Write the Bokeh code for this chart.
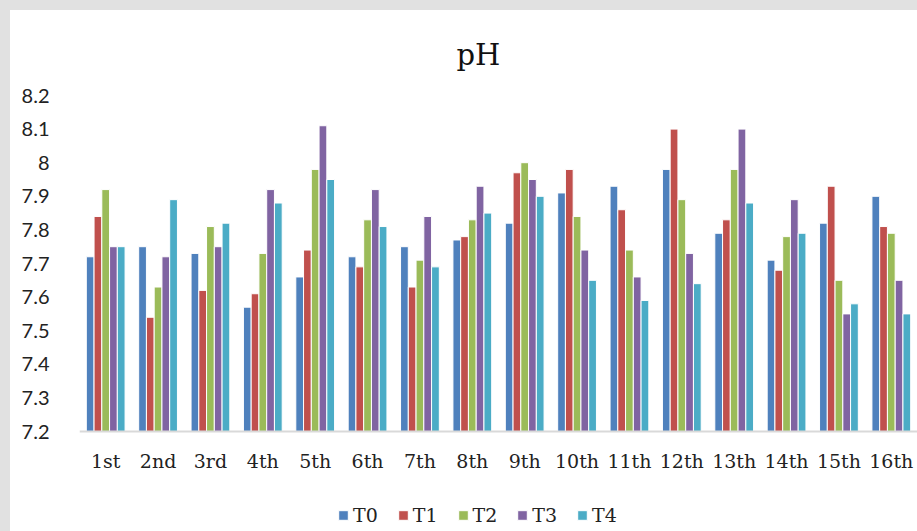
from bokeh.plotting import figure
from bokeh.models import (ColumnDataSource, FactorRange, Range1d, FixedTicker,
                          NumeralTickFormatter, Legend, LegendItem, CategoricalAxis)
from bokeh.transform import dodge
from bokeh.layouts import column
from bokeh.embed import file_html
from bokeh.resources import INLINE

categories = ["1st", "2nd", "3rd", "4th", "5th", "6th", "7th", "8th",
              "9th", "10th", "11th", "12th", "13th", "14th", "15th", "16th"]
series_names = ["T0", "T1", "T2", "T3", "T4"]
T0 = [7.72, 7.75, 7.73, 7.57, 7.66, 7.72, 7.75, 7.77, 7.82, 7.91, 7.93, 7.98, 7.79, 7.71, 7.82, 7.90]
T1 = [7.84, 7.54, 7.62, 7.61, 7.74, 7.69, 7.63, 7.78, 7.97, 7.98, 7.86, 8.10, 7.83, 7.68, 7.93, 7.81]
T2 = [7.92, 7.63, 7.81, 7.73, 7.98, 7.83, 7.71, 7.83, 8.00, 7.84, 7.74, 7.89, 7.98, 7.78, 7.65, 7.79]
T3 = [7.75, 7.72, 7.75, 7.92, 8.11, 7.92, 7.84, 7.93, 7.95, 7.74, 7.66, 7.73, 8.10, 7.89, 7.55, 7.65]
T4 = [7.75, 7.89, 7.82, 7.88, 7.95, 7.81, 7.69, 7.85, 7.90, 7.65, 7.59, 7.64, 7.88, 7.79, 7.58, 7.55]
y_ticks = [7.2, 7.3, 7.4, 7.5, 7.6, 7.7, 7.8, 7.9, 8.0, 8.1, 8.2]

colors = ["#4F81BD", "#C0504D", "#9BBB59", "#8064A2", "#4BACC6"]
SERIF = "DejaVu Serif"
SANS = "Lato"
TEXT = "#222222"

source = ColumnDataSource(dict(cat=categories, T0=T0, T1=T1, T2=T2, T3=T3, T4=T4))

# axis 7.2..8.2 spans 336 px; frame extends 100 px below the axis for legend room
y_min, y_max = 7.2, 8.2
y_start = y_min - (y_max - y_min) * 100 / 336

p = figure(x_range=FactorRange(factors=categories, range_padding=0),
           y_range=Range1d(y_start, y_max), x_axis_location=None,
           width=907, height=521, output_backend="svg", toolbar_location=None,
           min_border_left=69, min_border_right=0, min_border_top=85,
           min_border_bottom=0, margin=(10, 0, 0, 10),
           styles={"background-color": "white"})
p.background_fill_alpha = 0
p.border_fill_color = "white"
p.outline_line_color = None
p.xgrid.grid_line_color = None
p.ygrid.grid_line_color = None

p.title.text = "pH"
p.title.align = "left"
p.title.offset = 377
p.title.text_font = SERIF
p.title.text_font_size = "29px"
p.title.text_font_style = "normal"
p.title.text_color = "#111111"
p.title.standoff = 48

bw = 0.148
offsets = [-2 * bw, -bw, 0, bw, 2 * bw]
renderers = []
for name, off, col in zip(series_names, offsets, colors):
    r = p.vbar(x=dodge("cat", off, range=p.x_range), top=name, bottom=y_min,
               width=bw, source=source, fill_color=col, line_color="white",
               line_width=1)
    renderers.append(r)

p.yaxis.ticker = FixedTicker(ticks=y_ticks)
p.yaxis.formatter = NumeralTickFormatter(format="0.[0]")
p.yaxis.axis_line_color = None
p.yaxis.major_tick_line_color = None
p.yaxis.minor_tick_line_color = None
p.yaxis.major_label_text_font = SANS
p.yaxis.major_label_text_font_size = "20px"
p.yaxis.major_label_text_color = TEXT
p.yaxis.major_label_standoff = 24

xaxis = CategoricalAxis(fixed_location=y_min)
xaxis.axis_line_color = "#d9d9d9"
xaxis.axis_line_width = 2
xaxis.major_tick_line_color = None
xaxis.minor_tick_line_color = None
xaxis.major_label_text_font = SERIF
xaxis.major_label_text_font_size = "19px"
xaxis.major_label_text_color = TEXT
xaxis.major_label_standoff = 12
p.add_layout(xaxis, "below")

legend = Legend(items=[LegendItem(label=n, renderers=[r]) for n, r in zip(series_names, renderers)],
                orientation="horizontal", location=(258, 5))
legend.label_text_font = SERIF
legend.label_text_font_size = "19px"
legend.label_text_color = TEXT
legend.glyph_width = 12
legend.glyph_height = 12
legend.label_standoff = 4
legend.spacing = 19
legend.border_line_color = None
legend.background_fill_alpha = 0
legend.margin = 0
legend.padding = 0
p.add_layout(legend, "center")

layout = column(p, styles={"background-color": "#e1e1e1"})

open("out.html", "w").write(file_html(layout, INLINE))
